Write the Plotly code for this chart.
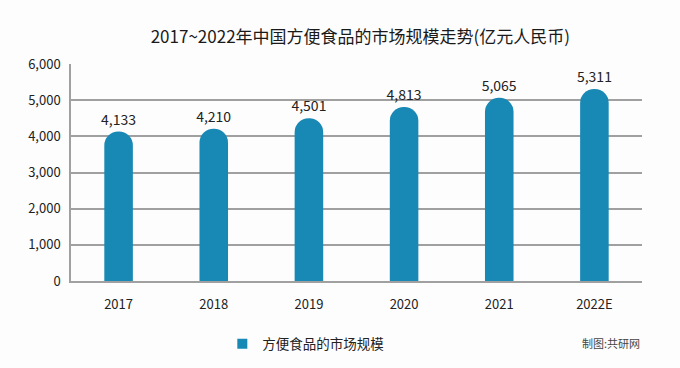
import plotly.graph_objects as go

years = ["2017", "2018", "2019", "2020", "2021", "2022E"]
market_size = [4133, 4210, 4501, 4813, 5065, 5311]
series_name = "方便食品的市场规模"
title_text = "2017~2022年中国方便食品的市场规模走势(亿元人民币)"
source_text = "制图:共研网"
y_ticks = [0, 1000, 2000, 3000, 4000, 5000, 6000]

FONT = "Noto Sans CJK SC"
BAR = "#1888b5"

fig = go.Figure()
fig.add_trace(go.Bar(
    x=years, y=market_size, name=series_name, showlegend=False,
    marker=dict(color=BAR, cornerradius="50%", line=dict(width=0)),
    width=0.3,
    text=[f"{v:,}" for v in market_size],
    textposition="outside", cliponaxis=False, constraintext="none",
    textfont=dict(family=FONT, size=14, color="#222222"),
    hoverinfo="skip",
))
# legend entry (square swatch)
fig.add_trace(go.Scatter(
    x=[None], y=[None], mode="markers", name=series_name, showlegend=True,
    marker=dict(symbol="square", size=10, color=BAR),
))

fig.update_layout(
    width=680, height=368,
    margin=dict(l=71, r=38, t=64, b=87, autoexpand=False),
    paper_bgcolor="#fdfdfd", plot_bgcolor="#fdfdfd",
    font=dict(family=FONT, size=13, color="#222222"),
    title=dict(text=title_text, x=0.53, xanchor="center", y=0.9, yanchor="middle",
               font=dict(family=FONT, size=17, color="#1a1a1a")),
    showlegend=True,
    legend=dict(orientation="h", x=0.265, xanchor="left", y=-0.29, yanchor="middle",
                font=dict(family=FONT, size=13.5, color="#222222"),
                bgcolor="rgba(0,0,0,0)"),
    bargap=0.7,
)
fig.update_yaxes(range=[0, 6000], tickvals=y_ticks, tickformat=",", showgrid=True,
                 gridcolor="#a0a0a0", gridwidth=1.5, showline=True, linecolor="#a0a0a0",
                 linewidth=1.5, zeroline=False, ticks="", ticklabelstandoff=6,
                 tickfont=dict(family=FONT, size=13, color="#222222"))
fig.update_xaxes(showline=True, linecolor="#a0a0a0", linewidth=1.5, ticks="",
                 ticklabelstandoff=11,
                 tickfont=dict(family=FONT, size=13, color="#222222"))
fig.add_annotation(text=source_text, xref="paper", yref="paper", x=1.0, y=-0.285,
                   xanchor="right", yanchor="middle", showarrow=False,
                   font=dict(family=FONT, size=11, color="#444444"))

fig.write_html("out.html", config={"displayModeBar": False},
               post_script="document.body.style.margin='0';document.body.style.background='#fdfdfd';")
